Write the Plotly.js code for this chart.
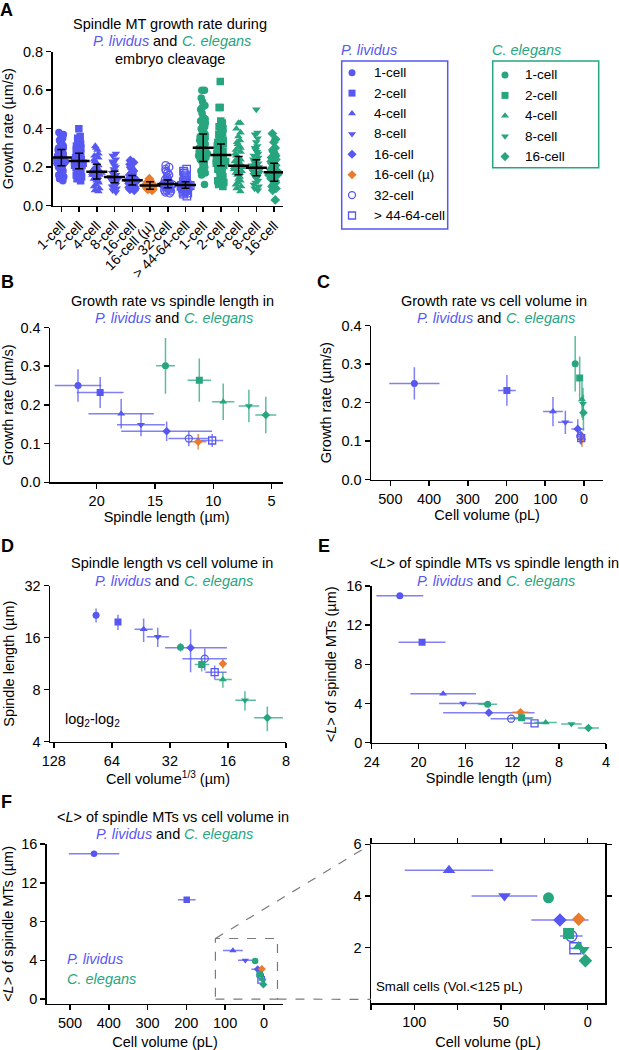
<!DOCTYPE html>
<html><head><meta charset="utf-8">
<script src="https://cdn.plot.ly/plotly-3.0.1.min.js"></script>
<style>html,body{margin:0;padding:0;background:#fff}#chart{width:619px;height:1050px}</style>
</head><body><div id="chart"></div>
<script>
// ---------------- DATA ----------------
const plCats = ['1-cell','2-cell','4-cell','8-cell','16-cell','16-cell (µ)','32-cell','> 44-64-cell'];
const ceCats = ['1-cell','2-cell','4-cell','8-cell','16-cell'];

// Panel A: individual growth rates (µm/s), estimated from the swarm plot
const plRaw1 = [0.38,0.37,0.36,0.35,0.34,0.33,0.32,0.31,0.30,0.30,0.29,0.28,0.28,0.27,0.27,0.26,0.26,0.25,0.25,0.25,0.24,0.24,0.24,0.23,0.23,0.22,0.22,0.21,0.21,0.20,0.20,0.19,0.19,0.18,0.17,0.16,0.15,0.14,0.13,0.25];
const plRaw2 = [0.40,0.36,0.35,0.34,0.33,0.32,0.31,0.30,0.29,0.28,0.27,0.27,0.26,0.25,0.25,0.24,0.24,0.23,0.23,0.23,0.22,0.22,0.21,0.21,0.20,0.20,0.19,0.19,0.18,0.18,0.17,0.16,0.15,0.14,0.13,0.22,0.24,0.21];
const plRaw4 = [0.31,0.30,0.29,0.27,0.26,0.25,0.24,0.23,0.22,0.21,0.20,0.20,0.19,0.19,0.18,0.18,0.18,0.17,0.17,0.17,0.16,0.16,0.15,0.15,0.14,0.14,0.13,0.13,0.12,0.11,0.10,0.09,0.08,0.075,0.18,0.16];
const plRaw8 = [0.27,0.26,0.24,0.23,0.22,0.21,0.20,0.19,0.18,0.17,0.17,0.16,0.16,0.15,0.15,0.15,0.14,0.14,0.14,0.13,0.13,0.13,0.12,0.12,0.11,0.11,0.10,0.10,0.09,0.08,0.07,0.15,0.14];
const plRaw16 = [0.235,0.225,0.215,0.20,0.19,0.18,0.17,0.165,0.16,0.15,0.15,0.14,0.14,0.135,0.13,0.13,0.13,0.125,0.12,0.12,0.115,0.11,0.11,0.105,0.10,0.10,0.095,0.09,0.085,0.08,0.13,0.14];
const plRaw16mu = [0.14,0.13,0.125,0.12,0.115,0.115,0.11,0.11,0.105,0.105,0.105,0.10,0.10,0.10,0.10,0.095,0.095,0.09,0.09,0.09,0.085,0.085,0.08,0.105,0.11,0.10];
const plRaw32 = [0.21,0.20,0.19,0.18,0.17,0.16,0.15,0.14,0.135,0.13,0.125,0.12,0.12,0.115,0.11,0.11,0.11,0.105,0.10,0.10,0.10,0.095,0.09,0.09,0.085,0.08,0.08,0.075,0.07,0.065,0.11,0.12];
const plRaw64 = [0.19,0.18,0.17,0.16,0.15,0.14,0.13,0.125,0.12,0.115,0.11,0.11,0.105,0.105,0.10,0.10,0.10,0.095,0.09,0.09,0.085,0.08,0.08,0.075,0.07,0.065,0.06,0.05,0.105,0.11,0.10];
const ceRaw1 = [0.60,0.60,0.56,0.54,0.52,0.51,0.50,0.48,0.46,0.45,0.44,0.43,0.42,0.41,0.40,0.39,0.38,0.37,0.36,0.35,0.34,0.33,0.32,0.32,0.31,0.31,0.30,0.30,0.29,0.29,0.28,0.28,0.27,0.27,0.26,0.26,0.25,0.25,0.24,0.24,0.23,0.22,0.21,0.20,0.19,0.18,0.17,0.16,0.11,0.30];
const ceRaw2 = [0.645,0.51,0.51,0.44,0.43,0.41,0.40,0.39,0.38,0.37,0.36,0.35,0.34,0.33,0.32,0.31,0.30,0.29,0.28,0.28,0.27,0.27,0.26,0.26,0.25,0.25,0.24,0.24,0.23,0.23,0.22,0.22,0.21,0.21,0.20,0.19,0.18,0.17,0.16,0.15,0.14,0.13,0.12,0.11,0.10];
const ceRaw4 = [0.43,0.43,0.40,0.38,0.36,0.34,0.33,0.32,0.31,0.30,0.29,0.28,0.27,0.26,0.25,0.24,0.24,0.23,0.23,0.22,0.22,0.21,0.21,0.20,0.20,0.19,0.19,0.18,0.18,0.17,0.17,0.16,0.15,0.14,0.13,0.12,0.11,0.10,0.09,0.075,0.21,0.20];
const ceRaw8 = [0.50,0.38,0.37,0.35,0.33,0.31,0.30,0.29,0.28,0.27,0.26,0.25,0.24,0.23,0.23,0.22,0.22,0.21,0.21,0.20,0.20,0.20,0.19,0.19,0.18,0.18,0.17,0.17,0.16,0.16,0.15,0.15,0.14,0.13,0.12,0.11,0.10,0.09,0.08,0.20,0.19,0.21];
const ceRaw16 = [0.375,0.345,0.33,0.30,0.29,0.28,0.27,0.26,0.25,0.24,0.23,0.22,0.21,0.21,0.20,0.20,0.19,0.19,0.18,0.18,0.17,0.17,0.17,0.16,0.16,0.15,0.15,0.14,0.14,0.13,0.13,0.12,0.11,0.10,0.09,0.08,0.03,0.17,0.18,0.16];

// Mean ± SD growth rate (µm/s)
const plRate   = [0.250, 0.232, 0.177, 0.149, 0.132, 0.105, 0.113, 0.108];
const plRateSD = [0.042, 0.040, 0.038, 0.030, 0.025, 0.020, 0.020, 0.017];
const ceRate   = [0.301, 0.264, 0.208, 0.197, 0.174];
const ceRateSD = [0.072, 0.056, 0.047, 0.042, 0.047];

// Spindle length (µm)
const plLen   = [21.6, 19.7, 17.9, 16.2, 14.0, 11.3, 12.1, 10.1];
const plLenSD = [2.0, 2.0, 2.8, 2.05, 3.9, 0.7, 1.75, 0.95];
const ceLen   = [14.1, 11.2, 9.15, 6.95, 5.5];
const ceLenSD = [0.8, 1.0, 0.95, 0.88, 0.9];

// Cell volume (pL)
const plVol   = [438, 199, 80, 48, 16, 5.2, 9.4, 7.1];
const plVolSD = [65, 23, 25.5, 19, 16.5, 1.5, 6.5, 3.5];
const ceVol   = [22.6, 11, 5.2, 2.5, 1.3];
const ceVolSD = [2, 1.5, 1, 0.8, 0.5];

// Cell volume^(1/3) (µm), panel D
const plCbrt      = [77.3, 59.5, 43.8, 37.0, 25.0, 17.0, 21.1, 18.75];
const plCbrtPlus  = [3, 2, 5, 5.2, 8.9, 0.4, 6.5, 2.2];
const plCbrtMinus = [3, 2, 4.5, 4.6, 8.8, 0.4, 4.9, 2.5];
const ceCbrt      = [28.2, 21.9, 17.0, 13.06, 10.0];
const ceCbrtErr   = [1, 1.9, 1.7, 1.6, 1.7];

// <L> of spindle MTs (µm)
const plL = [15.0, 10.25, 5.0, 4.0, 3.07, 3.1, 2.45, 1.98];
const ceL = [3.93, 2.55, 2.05, 1.92, 1.5];

// ---------------- STYLE ----------------
const BLUE = '#5757f2', GREEN = '#26a57e', ORANGE = '#ea7b2c';
const BLUE_EB = 'rgba(87,87,242,0.75)', GREEN_EB = 'rgba(38,165,126,0.75)', ORANGE_EB = 'rgba(234,123,44,0.85)';
const plSym = ['circle','square','triangle-up','triangle-down','diamond','diamond','circle-open','square-open'];
const ceSym = ['circle','square','triangle-up','triangle-down','diamond'];
const plCol = [BLUE,BLUE,BLUE,BLUE,BLUE,ORANGE,BLUE,BLUE];
const plEb  = [BLUE_EB,BLUE_EB,BLUE_EB,BLUE_EB,BLUE_EB,ORANGE_EB,BLUE_EB,BLUE_EB];
const FONT = 'Liberation Sans, Arial, Helvetica, sans-serif';
const W = 619, H = 1050;
const fx = p => p / W, fy = p => 1 - p / H;

const plRaw = [plRaw1, plRaw2, plRaw4, plRaw8, plRaw16, plRaw16mu, plRaw32, plRaw64];
const ceRaw = [ceRaw1, ceRaw2, ceRaw4, ceRaw8, ceRaw16];
const allCats = plCats.concat(ceCats);

const traces = [];

// ---- Panel A swarm ----
function swarm(vals, idx, sym, col) {
  const open = sym.indexOf('open') >= 0;
  traces.push({
    type: 'box', x0: idx, y: vals, xaxis: 'x', yaxis: 'y',
    boxpoints: 'all', jitter: 1, pointpos: 0, width: 0.6,
    marker: {symbol: sym, color: col, size: 7.5, line: {width: open ? 1.3 : 0, color: col}},
    line: {width: 0, color: 'rgba(0,0,0,0)'}, fillcolor: 'rgba(0,0,0,0)',
    hoverinfo: 'skip', showlegend: false
  });
}
plRaw.forEach((v, i) => swarm(v, i, plSym[i], plCol[i]));
ceRaw.forEach((v, i) => swarm(v, plCats.length + i, ceSym[i], GREEN));
traces.push({
  type: 'scatter', mode: 'markers', xaxis: 'x', yaxis: 'y',
  x: allCats.map((_, i) => i), y: plRate.concat(ceRate),
  error_y: {type: 'data', array: plRateSD.concat(ceRateSD), color: '#000', thickness: 1.5, width: 4},
  marker: {symbol: 'line-ew', size: 15, color: '#000', line: {width: 2.5, color: '#000'}},
  showlegend: false, hoverinfo: 'skip'
});

// ---- scatter helpers ----
function pt(xa, ya, x, y, ex, ey, sym, col, eb, size) {
  const open = sym.indexOf('open') >= 0;
  const t = {
    type: 'scatter', mode: 'markers', xaxis: xa, yaxis: ya, x: [x], y: [y],
    marker: {symbol: sym, color: col, size: sym.indexOf('diamond') >= 0 ? size * 0.95 : size,
             line: {width: open ? 1.3 : 0, color: col}},
    showlegend: false, hoverinfo: 'skip'
  };
  if (ex) t.error_x = Object.assign({type: 'data', color: eb, thickness: 1.5, width: 0}, ex);
  if (ey) t.error_y = Object.assign({type: 'data', color: eb, thickness: 1.5, width: 0}, ey);
  return t;
}
function sd(v) { return {array: [v]}; }

// Panel B: growth rate vs spindle length
ceCats.forEach((c, i) => traces.push(pt('x2','y2', ceLen[i], ceRate[i], sd(ceLenSD[i]), sd(ceRateSD[i]), ceSym[i], GREEN, GREEN_EB, 7)));
plCats.forEach((c, i) => traces.push(pt('x2','y2', plLen[i], plRate[i], sd(plLenSD[i]), sd(plRateSD[i]), plSym[i], plCol[i], plEb[i], 7)));
// Panel C: growth rate vs cell volume
plCats.forEach((c, i) => traces.push(pt('x3','y3', plVol[i], plRate[i], sd(plVolSD[i]), sd(plRateSD[i]), plSym[i], plCol[i], plEb[i], 7)));
ceCats.forEach((c, i) => traces.push(pt('x3','y3', ceVol[i], ceRate[i], sd(ceVolSD[i]), sd(ceRateSD[i]), ceSym[i], GREEN, GREEN_EB, 7)));
// Panel D: spindle length vs cell volume^(1/3)
plCats.forEach((c, i) => traces.push(pt('x4','y4', plCbrt[i], plLen[i], {symmetric: false, array: [plCbrtPlus[i]], arrayminus: [plCbrtMinus[i]]}, sd(plLenSD[i]), plSym[i], plCol[i], plEb[i], 7)));
ceCats.forEach((c, i) => traces.push(pt('x4','y4', ceCbrt[i], ceLen[i], sd(ceCbrtErr[i]), sd(ceLenSD[i]), ceSym[i], GREEN, GREEN_EB, 7)));
// Panel E: <L> vs spindle length
plCats.forEach((c, i) => traces.push(pt('x5','y5', plLen[i], plL[i], sd(plLenSD[i]), null, plSym[i], plCol[i], plEb[i], 7)));
ceCats.forEach((c, i) => traces.push(pt('x5','y5', ceLen[i], ceL[i], sd(ceLenSD[i]), null, ceSym[i], GREEN, GREEN_EB, 7)));
// Panel F: <L> vs cell volume (main + inset)
plCats.forEach((c, i) => traces.push(pt('x6','y6', plVol[i], plL[i], sd(plVolSD[i]), null, plSym[i], plCol[i], plEb[i], 6.5)));
ceCats.forEach((c, i) => traces.push(pt('x6','y6', ceVol[i], ceL[i], sd(ceVolSD[i]), null, ceSym[i], GREEN, GREEN_EB, 6.5)));
plCats.forEach((c, i) => traces.push(pt('x7','y7', plVol[i], plL[i], sd(plVolSD[i]), null, plSym[i], plCol[i], plEb[i], 11)));
ceCats.forEach((c, i) => traces.push(pt('x7','y7', ceVol[i], ceL[i], sd(ceVolSD[i]), null, ceSym[i], GREEN, GREEN_EB, 11)));

// ---- Legend glyphs (own hidden axis in pixel units) ----
const LG = {plX: 352, plY0: 72.7, ceX: 505, ceY0: 75, step: 20.4, textDx: 20.7};
traces.push({type: 'scatter', mode: 'markers', xaxis: 'x8', yaxis: 'y8',
  x: plCats.map(() => LG.plX), y: plCats.map((_, i) => LG.plY0 + i * LG.step),
  marker: {symbol: plSym, color: plCol, size: 7, line: {width: plSym.map(s => s.indexOf('open') >= 0 ? 1.3 : 0), color: plCol}},
  showlegend: false, hoverinfo: 'skip'});
traces.push({type: 'scatter', mode: 'markers', xaxis: 'x8', yaxis: 'y8',
  x: ceCats.map(() => LG.ceX), y: ceCats.map((_, i) => LG.ceY0 + i * LG.step),
  marker: {symbol: ceSym, color: GREEN, size: 7},
  showlegend: false, hoverinfo: 'skip'});

// ---------------- LAYOUT ----------------
const TF = {size: 14.5, color: '#000', family: FONT};
function ax(extra) {
  return Object.assign({showline: true, linecolor: '#000', linewidth: 1.5, ticks: 'outside', ticklen: 5,
    tickwidth: 1.5, tickcolor: '#000', showgrid: false, zeroline: false, tickfont: TF, fixedrange: true,
    autorange: false}, extra);
}
function ttl(text, standoff) { return {text: text, font: {size: 14.5, color: '#000', family: FONT}, standoff: standoff}; }
const Lsym = '&lt;<i>L</i>&gt;';

const layout = {
  width: W, height: H, margin: {l: 0, r: 0, t: 0, b: 0},
  paper_bgcolor: '#fff', plot_bgcolor: 'rgba(0,0,0,0)',
  font: {family: FONT, color: '#000', size: 14}, showlegend: false,
  // A
  xaxis: ax({domain: [fx(52.5), fx(283)], anchor: 'y', type: 'linear', range: [-0.5, 12.5],
    tickvals: allCats.map((_, i) => i), ticktext: allCats, tickangle: -45, tickfont: {size: 14, color: '#000', family: FONT}}),
  yaxis: ax({domain: [fy(205.7), fy(51.7)], anchor: 'x', range: [0, 0.8], tickvals: [0, 0.2, 0.4, 0.6, 0.8],
    tickformat: '.1f', title: ttl('Growth rate (µm/s)', 6)}),
  // B
  xaxis2: ax({domain: [fx(50), fx(283.3)], anchor: 'y2', range: [24, 4], tickvals: [20, 15, 10, 5],
    title: ttl('Spindle length (µm)', 2)}),
  yaxis2: ax({domain: [fy(482.3), fy(327.5)], anchor: 'x2', range: [0, 0.4], tickvals: [0, 0.1, 0.2, 0.3, 0.4],
    tickformat: '.1f', title: ttl('Growth rate (µm/s)', 6)}),
  // C
  xaxis3: ax({domain: [fx(371), fx(603.3)], anchor: 'y3', range: [550, -50], tickvals: [500, 400, 300, 200, 100, 0],
    title: ttl('Cell volume (pL)', 2)}),
  yaxis3: ax({domain: [fy(479.7), fy(325.7)], anchor: 'x3', range: [0, 0.4], tickvals: [0, 0.1, 0.2, 0.3, 0.4],
    tickformat: '.1f', title: ttl('Growth rate (µm/s)', 6)}),
  // D
  xaxis4: ax({domain: [fx(50), fx(286)], anchor: 'y4', type: 'log', range: [Math.log10(134), Math.log10(8)],
    tickvals: [128, 64, 32, 16, 8], title: ttl('Cell volume<sup>1/3</sup> (µm)', 5)}),
  yaxis4: ax({domain: [fy(741.7), fy(585.7)], anchor: 'x4', type: 'log', range: [Math.log10(4), Math.log10(32)],
    tickvals: [4, 8, 16, 32], title: ttl('Spindle length (µm)', 6)}),
  // E
  xaxis5: ax({domain: [fx(371.7), fx(606)], anchor: 'y5', range: [24, 4], tickvals: [24, 20, 16, 12, 8, 4],
    title: ttl('Spindle length (µm)', 2)}),
  yaxis5: ax({domain: [fy(742.7), fy(586)], anchor: 'x5', range: [0, 16], tickvals: [0, 4, 8, 12, 16],
    title: ttl(Lsym + ' of spindle MTs (µm)', 6)}),
  // F main
  xaxis6: ax({domain: [fx(46.7), fx(283.3)], anchor: 'y6', range: [560, -50], tickvals: [500, 400, 300, 200, 100, 0],
    title: ttl('Cell volume (pL)', 8)}),
  yaxis6: ax({domain: [fy(1003.9), fy(844)], anchor: 'x6', range: [-0.5, 16], tickvals: [0, 4, 8, 12, 16],
    title: ttl(Lsym + ' of spindle MTs (µm)', 6)}),
  // F inset
  xaxis7: ax({domain: [fx(371), fx(605)], anchor: 'y7', range: [125, -10], tickvals: [100, 50, 0],
    minor: {dtick: 25, tick0: 0, ticks: 'outside', ticklen: 5, tickwidth: 1.5, tickcolor: '#000', showgrid: false},
    mirror: 'ticks', title: ttl('Cell volume (pL)', 8)}),
  yaxis7: ax({domain: [fy(1003.3), fy(844.3)], anchor: 'x7', range: [-0.15, 6], tickvals: [2, 4, 6], mirror: 'ticks'}),
  // legend glyph area (pixel units)
  xaxis8: {domain: [fx(330), fx(610)], anchor: 'y8', range: [330, 610], visible: false, fixedrange: true},
  yaxis8: {domain: [fy(235), fy(40)], anchor: 'x8', range: [235, 40], visible: false, fixedrange: true},
  shapes: [],
  annotations: []
};

function note(text, px, py, opts) {
  layout.annotations.push(Object.assign({text: text, xref: 'paper', yref: 'paper', x: fx(px), y: fy(py),
    xanchor: 'center', yanchor: 'middle', showarrow: false, borderpad: 0, borderwidth: 0,
    font: {size: 14.5, color: '#000', family: FONT}}, opts || {}));
}
// "P. lividus and C. elegans" line, built from three pieces centred on cx
function species(cx, py) {
  note('<i>P. lividus</i>', cx - 21, py, {xanchor: 'right', font: {size: 14.5, color: BLUE, family: FONT}});
  note('and', cx - 5, py);
  note('<i>C. elegans</i>', cx + 11.5, py, {xanchor: 'left', font: {size: 14.5, color: GREEN, family: FONT}});
}
// panel letters
[['A', 0, 10], ['B', 1, 282], ['C', 317, 282], ['D', 1, 546], ['E', 318, 546], ['F', 1, 802]].forEach(l =>
  note(l[0], l[1], l[2], {xanchor: 'left', font: {size: 18, color: '#000', family: FONT, weight: 'bold'}}));
// titles
note('Spindle MT growth rate during', 170, 24);
species(170, 41.5);
note('embryo cleavage', 170, 59);
note('Growth rate vs spindle length in', 172, 301);
species(172, 318.3);
note('Growth rate vs cell volume in', 494, 301);
species(494, 318.3);
note('Spindle length vs cell volume in', 172, 563.3);
species(172, 581);
note(Lsym + ' of spindle MTs vs spindle length in', 494, 563.3);
species(494, 581);
note(Lsym + ' of spindle MTs vs cell volume in', 172.5, 816.7);
species(172.5, 834);
note('log<sub>2</sub>-log<sub>2</sub>', 65, 720, {xanchor: 'left'});
note('<i>P. lividus</i>', 67, 959.3, {xanchor: 'left', font: {size: 14.5, color: BLUE, family: FONT}});
note('<i>C. elegans</i>', 67, 979, {xanchor: 'left', font: {size: 14.5, color: GREEN, family: FONT}});
note('Small cells (Vol.&lt;125 pL)', 376.5, 986.7, {xanchor: 'left', font: {size: 13.3, color: '#000', family: FONT}});

// legend titles, boxes and labels
note('<i>P. lividus</i>', 341, 50, {xanchor: 'left', font: {size: 14.5, color: BLUE, family: FONT}});
note('<i>C. elegans</i>', 492, 50, {xanchor: 'left', font: {size: 14.5, color: GREEN, family: FONT}});
layout.shapes.push({type: 'rect', xref: 'paper', yref: 'paper', x0: fx(341.7), x1: fx(447.7), y0: fy(229), y1: fy(61),
  line: {color: BLUE, width: 1.5}});
layout.shapes.push({type: 'rect', xref: 'paper', yref: 'paper', x0: fx(492.7), x1: fx(598.7), y0: fy(167.7), y1: fy(61),
  line: {color: GREEN, width: 1.5}});
plCats.forEach((c, i) => layout.annotations.push({text: c, xref: 'x8', yref: 'y8', x: LG.plX + LG.textDx,
  y: LG.plY0 + i * LG.step, xanchor: 'left', yanchor: 'middle', showarrow: false, borderpad: 0,
  font: {size: 13.5, color: '#000', family: FONT}}));
ceCats.forEach((c, i) => layout.annotations.push({text: c, xref: 'x8', yref: 'y8', x: LG.ceX + 19,
  y: LG.ceY0 + i * LG.step, xanchor: 'left', yanchor: 'middle', showarrow: false, borderpad: 0,
  font: {size: 13.5, color: '#000', family: FONT}}));

// F zoom box and connectors
function paperOf(axis, v) {
  const d = axis.domain, r = axis.range;
  const lv = axis.type === 'log' ? Math.log10(v) : v;
  return d[0] + (lv - r[0]) / (r[1] - r[0]) * (d[1] - d[0]);
}
const zoomBox = {x0: 125, x1: -35, y0: 0, y1: 6.25};
const dash = {color: '#7a7a7a', width: 1.2, dash: 'dash'};
layout.shapes.push({type: 'rect', xref: 'x6', yref: 'y6', x0: zoomBox.x0, x1: zoomBox.x1, y0: zoomBox.y0, y1: zoomBox.y1, line: dash});
layout.shapes.push({type: 'line', xref: 'paper', yref: 'paper',
  x0: paperOf(layout.xaxis6, zoomBox.x0), y0: paperOf(layout.yaxis6, zoomBox.y1),
  x1: layout.xaxis7.domain[0], y1: paperOf(layout.yaxis7, 6), line: dash});
layout.shapes.push({type: 'line', xref: 'paper', yref: 'paper',
  x0: paperOf(layout.xaxis6, zoomBox.x1), y0: paperOf(layout.yaxis6, zoomBox.y0),
  x1: layout.xaxis7.domain[0], y1: paperOf(layout.yaxis7, 0), line: dash});

Plotly.newPlot('chart', traces, layout, {displayModeBar: false, staticPlot: true});
</script></body></html>
